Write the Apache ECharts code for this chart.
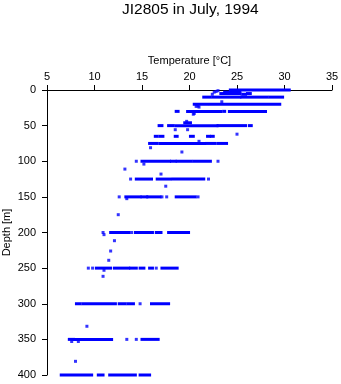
<!DOCTYPE html>
<html>
<head>
<meta charset="utf-8">
<script src="https://cdn.jsdelivr.net/npm/echarts@6/dist/echarts.min.js"></script>
<style>
html,body{margin:0;padding:0;background:#fff;}
#chart{width:341px;height:384px;}
</style>
</head>
<body>
<div id="chart"></div>
<script>
// Tick values
const tempTicks = [5, 10, 15, 20, 25, 30, 35];
const depthTicks = [0, 50, 100, 150, 200, 250, 300, 350, 400];

// Dense runs of observations: [depth (m), temperature start (°C), temperature end (°C)]
const runs = [
  [0, 24.3, 30.5],
  [3, 23.7, 25.3], [5, 23.3, 25.3], [6, 25.6, 25.9], [5, 26.1, 26.4],
  [10, 21.5, 22.2], [10, 22.5, 25.3], [10, 25.5, 28.2], [10, 28.5, 29.8],
  [20, 20.5, 21.9], [20, 22.2, 29.5],
  [30, 18.6, 18.8], [30, 19.8, 23.3], [30, 23.6, 23.7], [30, 24.2, 28.0],
  [46, 19.5, 20.1],
  [50, 16.8, 17.1], [50, 17.8, 18.3], [50, 18.6, 22.9], [50, 23.0, 25.9], [50, 26.3, 26.5],
  [65, 16.4, 16.6], [65, 16.9, 17.2], [65, 18.5, 18.7], [65, 20.1, 20.4], [65, 21.9, 22.1], [65, 22.3, 22.5],
  [75, 15.8, 16.6], [75, 16.9, 21.6], [75, 21.8, 22.7], [75, 23.0, 23.9],
  [100, 15.0, 17.9], [100, 18.1, 18.5], [100, 18.7, 20.2], [100, 20.5, 22.2],
  [125, 14.4, 16.0], [125, 16.6, 18.0], [125, 18.3, 21.5],
  [150, 13.3, 14.8], [150, 15.0, 15.5], [150, 15.6, 16.9], [150, 18.6, 20.6],
  [200, 11.7, 13.6], [200, 14.3, 16.1], [200, 16.5, 17.0], [200, 17.8, 19.0], [200, 19.2, 19.9],
  [250, 10.2, 11.7], [250, 12.1, 13.6], [250, 13.8, 14.4], [250, 14.8, 15.2], [250, 15.8, 16.1], [250, 17.1, 18.7],
  [300, 8.1, 8.5], [300, 8.8, 12.2], [300, 12.6, 13.2], [300, 13.5, 14.1], [300, 16.0, 17.8],
  [350, 7.35, 7.8], [350, 7.9, 11.8], [350, 15.0, 16.7],
  [400, 6.5, 9.7], [400, 10.4, 10.9], [400, 11.6, 14.3], [400, 14.8, 15.8]
];

// Isolated observations: [temperature (°C), depth (m)]
const points = [
  [22.8, 2], [23.0, 1], [22.6, 3], [22.4, 6],
  [23.4, 16.5],
  [20.7, 23], [21.0, 24], [20.9, 22.5],
  [20.5, 33], [20.4, 34],
  [19.7, 44],
  [18.5, 55.7], [19.8, 55.7],
  [25.0, 62],
  [21.0, 72],
  [15.9, 81], [19.2, 87],
  [14.4, 100], [23.0, 100], [15.2, 104], [13.2, 111], [17.0, 118],
  [13.8, 125], [22.0, 125], [17.5, 135],
  [12.6, 150], [17.1, 150], [17.6, 150], [20.9, 150], [13.4, 152.5],
  [12.5, 175],
  [10.9, 200], [13.9, 200], [11.0, 203],
  [12.1, 211.5], [11.7, 226], [11.5, 239],
  [9.35, 250], [9.8, 250], [16.5, 250], [11.0, 253], [10.9, 261.5],
  [14.8, 300],
  [9.2, 331.6],
  [13.4, 350], [14.4, 350], [7.6, 353], [8.3, 353],
  [8.0, 380.8]
];

const BLUE = '#0000ff';
const FONT = 'Liberation Sans, Arial, Helvetica, sans-serif';

const chart = echarts.init(document.getElementById('chart'), null, {renderer: 'canvas'});
chart.setOption({
  animation: false,
  backgroundColor: '#fff',
  title: {
    text: 'JI2805 in July, 1994',
    left: 122, top: 2, padding: 0,
    textStyle: {fontFamily: FONT, fontSize: 15.5, fontWeight: 'normal', color: '#000'}
  },
  grid: {left: 47, top: 90, right: 9, bottom: 9, containLabel: false, outerBoundsMode: 'none'},
  xAxis: {
    type: 'value', position: 'top',
    min: tempTicks[0], max: tempTicks[tempTicks.length - 1], interval: 5,
    name: 'Temperature [°C]', nameLocation: 'middle', nameGap: 24, nameMoveOverlap: false,
    nameTextStyle: {fontFamily: FONT, fontSize: 11, color: '#000'},
    axisLine: {show: true, onZero: false, lineStyle: {color: '#000', width: 1}},
    axisTick: {show: true, length: 5, lineStyle: {color: '#000'}},
    axisLabel: {fontFamily: FONT, fontSize: 11, color: '#000', margin: 8},
    splitLine: {show: false}
  },
  yAxis: {
    type: 'value', inverse: true,
    min: depthTicks[0], max: depthTicks[depthTicks.length - 1], interval: 50,
    name: 'Depth [m]', nameLocation: 'middle', nameGap: 35, nameMoveOverlap: false,
    nameTextStyle: {fontFamily: FONT, fontSize: 11, color: '#000'},
    axisLine: {show: true, onZero: false, lineStyle: {color: '#000', width: 1}},
    axisTick: {show: true, length: 5, lineStyle: {color: '#000'}},
    axisLabel: {fontFamily: FONT, fontSize: 11, color: '#000', margin: 11},
    splitLine: {show: false}
  },
  series: [
    {
      type: 'custom',
      encode: {x: [1, 2], y: 0},
      data: runs,
      renderItem: function (params, api) {
        const d = api.value(0);
        const p1 = api.coord([api.value(1), d]);
        const p2 = api.coord([api.value(2), d]);
        return {
          type: 'rect',
          shape: {x: p1[0] - 1.5, y: p1[1] - 1.5, width: p2[0] - p1[0] + 3, height: 3},
          style: {fill: BLUE}
        };
      }
    },
    {
      type: 'scatter',
      symbol: 'rect',
      symbolSize: 3,
      itemStyle: {color: BLUE},
      data: points
    }
  ]
});
</script>
</body>
</html>
